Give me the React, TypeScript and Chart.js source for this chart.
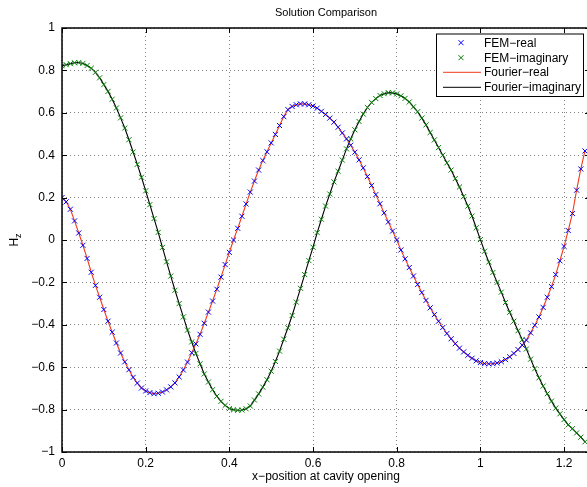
import React, { useEffect, useRef } from "react";
import { Chart, registerables } from "chart.js";

Chart.register(...registerables);

const xPositions = [
  0.00, 0.01, 0.02, 0.03, 0.04, 0.05, 0.06, 0.07, 0.08, 0.09,
  0.10, 0.11, 0.12, 0.13, 0.14, 0.15, 0.16, 0.17, 0.18, 0.19,
  0.20, 0.21, 0.22, 0.23, 0.24, 0.25, 0.26, 0.27, 0.28, 0.29,
  0.30, 0.31, 0.32, 0.33, 0.34, 0.35, 0.36, 0.37, 0.38, 0.39,
  0.40, 0.41, 0.42, 0.43, 0.44, 0.45, 0.46, 0.47, 0.48, 0.49,
  0.50, 0.51, 0.52, 0.53, 0.54, 0.55, 0.56, 0.57, 0.58, 0.59,
  0.60, 0.61, 0.62, 0.63, 0.64, 0.65, 0.66, 0.67, 0.68, 0.69,
  0.70, 0.71, 0.72, 0.73, 0.74, 0.75, 0.76, 0.77, 0.78, 0.79,
  0.80, 0.81, 0.82, 0.83, 0.84, 0.85, 0.86, 0.87, 0.88, 0.89,
  0.90, 0.91, 0.92, 0.93, 0.94, 0.95, 0.96, 0.97, 0.98, 0.99,
  1.00, 1.01, 1.02, 1.03, 1.04, 1.05, 1.06, 1.07, 1.08, 1.09,
  1.10, 1.11, 1.12, 1.13, 1.14, 1.15, 1.16, 1.17, 1.18, 1.19,
  1.20, 1.21, 1.22, 1.23, 1.24, 1.25,
];

const femReal = [
  0.200, 0.180, 0.145, 0.090, 0.033, -0.025, -0.087, -0.152, -0.214, -0.270,
  -0.328, -0.383, -0.435, -0.486, -0.533, -0.575, -0.612, -0.648, -0.675, -0.698,
  -0.712, -0.720, -0.725, -0.723, -0.717, -0.707, -0.693, -0.674, -0.646, -0.613,
  -0.576, -0.532, -0.490, -0.445, -0.393, -0.340, -0.288, -0.232, -0.175, -0.116,
  -0.058, 0.000, 0.055, 0.112, 0.170, 0.226, 0.278, 0.330, 0.375, 0.416,
  0.458, 0.498, 0.540, 0.582, 0.615, 0.630, 0.638, 0.642, 0.642, 0.638,
  0.632, 0.622, 0.607, 0.592, 0.575, 0.556, 0.532, 0.505, 0.477, 0.447,
  0.414, 0.378, 0.340, 0.299, 0.257, 0.214, 0.171, 0.128, 0.085, 0.042,
  0.000, -0.047, -0.089, -0.130, -0.170, -0.210, -0.248, -0.285, -0.320, -0.352,
  -0.383, -0.413, -0.441, -0.466, -0.489, -0.510, -0.528, -0.544, -0.558, -0.570,
  -0.578, -0.583, -0.584, -0.583, -0.580, -0.574, -0.564, -0.551, -0.535, -0.517,
  -0.496, -0.472, -0.438, -0.402, -0.363, -0.318, -0.270, -0.220, -0.163, -0.098,
  -0.030, 0.045, 0.125, 0.235, 0.335, 0.420,
];

const femImag = [
  0.822, 0.827, 0.832, 0.836, 0.837, 0.833, 0.823, 0.810, 0.791, 0.765,
  0.733, 0.701, 0.664, 0.623, 0.576, 0.528, 0.473, 0.415, 0.357, 0.296,
  0.232, 0.167, 0.101, 0.036, -0.035, -0.103, -0.170, -0.237, -0.300, -0.363,
  -0.425, -0.481, -0.535, -0.584, -0.632, -0.670, -0.706, -0.737, -0.761, -0.780,
  -0.795, -0.801, -0.803, -0.802, -0.796, -0.783, -0.755, -0.726, -0.694, -0.659,
  -0.619, -0.573, -0.524, -0.468, -0.414, -0.356, -0.293, -0.228, -0.163, -0.097,
  -0.034, 0.035, 0.098, 0.160, 0.217, 0.274, 0.324, 0.377, 0.430, 0.477,
  0.520, 0.559, 0.594, 0.625, 0.649, 0.667, 0.682, 0.690, 0.695, 0.694,
  0.689, 0.680, 0.668, 0.651, 0.628, 0.605, 0.575, 0.543, 0.507, 0.472,
  0.436, 0.400, 0.364, 0.330, 0.290, 0.250, 0.205, 0.160, 0.113, 0.058,
  0.002, -0.053, -0.104, -0.153, -0.200, -0.246, -0.295, -0.341, -0.383, -0.428,
  -0.470, -0.514, -0.562, -0.607, -0.650, -0.689, -0.725, -0.760, -0.793, -0.820,
  -0.847, -0.872, -0.890, -0.910, -0.930, -0.952,
];

// Fourier solution coincides with the FEM samples
const fourierReal = femReal;
const fourierImag = femImag;

const xTicks = [0, 0.2, 0.4, 0.6, 0.8, 1, 1.2];
const yTicks = [-1, -0.8, -0.6, -0.4, -0.2, 0, 0.2, 0.4, 0.6, 0.8, 1];
const seriesNames = ["FEM\u2212real", "FEM\u2212imaginary", "Fourier\u2212real", "Fourier\u2212imaginary"];
const chartTitle = "Solution Comparison";
const xAxisTitle = "x\u2212position at cavity opening";
const yAxisTitleMain = "H";
const yAxisTitleSub = "z";

const FONT = '"Liberation Sans", Arial, Helvetica, sans-serif';
const COLORS = {
  femReal: "#0000ff",
  femImag: "#008000",
  fourierReal: "#f03a1a",
  fourierImag: "#000000",
};

const fmt = (v: number) => {
  const n = Math.round(v * 10) / 10;
  return n < 0 ? "\u2212" + String(Math.abs(n)) : String(n);
};

const matlabPlugin = {
  id: "matlabDecor",
  afterDraw(chart: any) {
    const { ctx, chartArea: a, scales } = chart;
    ctx.save();
    const line = (x1: number, y1: number, x2: number, y2: number) => {
      ctx.beginPath();
      ctx.moveTo(x1, y1);
      ctx.lineTo(x2, y2);
      ctx.stroke();
    };
    // axes box
    ctx.strokeStyle = "#000";
    ctx.lineWidth = 1.5;
    ctx.setLineDash([]);
    ctx.strokeRect(a.left, a.top, a.right - a.left, a.bottom - a.top);
    // inward ticks
    ctx.lineWidth = 1;
    const tl = 5;
    for (const v of xTicks) {
      const px = Math.round(scales.x.getPixelForValue(v)) + 0.5;
      line(px, a.bottom, px, a.bottom - tl);
      line(px, a.top, px, a.top + tl);
    }
    for (const v of yTicks) {
      const py = Math.round(scales.y.getPixelForValue(v)) + 0.5;
      line(a.left, py, a.left + tl, py);
      line(a.right, py, a.right - tl, py);
    }
    const cx = (a.left + a.right) / 2;
    // title
    ctx.fillStyle = "#000";
    ctx.textAlign = "center";
    ctx.textBaseline = "middle";
    ctx.font = `11px ${FONT}`;
    ctx.fillText(chartTitle, cx, 13);
    // x axis title
    ctx.font = `12px ${FONT}`;
    ctx.fillText(xAxisTitle, cx, 477);
    // y axis title with subscript
    ctx.save();
    ctx.translate(15, (a.top + a.bottom) / 2);
    ctx.rotate(-Math.PI / 2);
    ctx.textAlign = "left";
    ctx.textBaseline = "alphabetic";
    ctx.font = `12px ${FONT}`;
    const wH = ctx.measureText(yAxisTitleMain).width;
    ctx.font = `9px ${FONT}`;
    const wz = ctx.measureText(yAxisTitleSub).width;
    const start = -(wH + wz) / 2;
    ctx.font = `12px ${FONT}`;
    ctx.fillText(yAxisTitleMain, start, 3);
    ctx.font = `9px ${FONT}`;
    ctx.fillText(yAxisTitleSub, start + wH, 6);
    ctx.restore();

    // legend
    const lx = 436, ly = 33.5, lw = 147, lh = 62.5;
    ctx.fillStyle = "#fff";
    ctx.fillRect(lx, ly, lw, lh);
    ctx.strokeStyle = "#000";
    ctx.lineWidth = 1;
    ctx.strokeRect(lx + 0.5, ly + 0.5, lw, lh);
    const rows = [42.7, 57.7, 72.3, 87.3];
    const colors = [COLORS.femReal, COLORS.femImag, COLORS.fourierReal, COLORS.fourierImag];
    ctx.font = `12px ${FONT}`;
    ctx.textAlign = "left";
    ctx.textBaseline = "middle";
    rows.forEach((ry, i) => {
      ctx.strokeStyle = colors[i];
      if (i < 2) {
        const mx = 461, r = 2.5;
        line(mx - r, ry - r, mx + r, ry + r);
        line(mx - r, ry + r, mx + r, ry - r);
      } else {
        line(443, ry, 481, ry);
      }
      ctx.fillStyle = "#000";
      ctx.fillText(seriesNames[i], 484, ry + 0.5);
    });
    ctx.restore();
  },
};

export default function App() {
  const ref = useRef<HTMLCanvasElement | null>(null);

  useEffect(() => {
    if (!ref.current) return;
    const pts = (ys: number[]) => xPositions.map((x, i) => ({ x, y: ys[i] }));
    const chart = new Chart(ref.current, {
      type: "scatter",
      data: {
        datasets: [
          {
            label: seriesNames[0],
            data: pts(femReal),
            showLine: false,
            pointStyle: "crossRot",
            pointRadius: 3.6,
            pointBorderWidth: 1,
            borderColor: COLORS.femReal,
            backgroundColor: COLORS.femReal,
            order: 1,
          },
          {
            label: seriesNames[1],
            data: pts(femImag),
            showLine: false,
            pointStyle: "crossRot",
            pointRadius: 3.6,
            pointBorderWidth: 1,
            borderColor: COLORS.femImag,
            backgroundColor: COLORS.femImag,
            order: 1,
          },
          {
            label: seriesNames[2],
            data: pts(fourierReal),
            showLine: true,
            pointRadius: 0,
            borderWidth: 1.1,
            borderColor: COLORS.fourierReal,
            backgroundColor: COLORS.fourierReal,
            order: 2,
          },
          {
            label: seriesNames[3],
            data: pts(fourierImag),
            showLine: true,
            pointRadius: 0,
            borderWidth: 1.1,
            borderColor: COLORS.fourierImag,
            backgroundColor: COLORS.fourierImag,
            order: 2,
          },
        ],
      },
      options: {
        animation: false,
        responsive: false,
        devicePixelRatio: 1,
        events: [],
        layout: { padding: { top: 28, right: 10, left: 0, bottom: 0 } },
        plugins: {
          legend: { display: false },
          title: { display: false },
          tooltip: { enabled: false },
        },
        scales: {
          x: {
            type: "linear",
            min: 0,
            max: 1.262,
            afterBuildTicks: (scale: any) => {
              scale.ticks = xTicks.map((value) => ({ value }));
            },
            afterFit: (scale: any) => {
              scale.height = 35;
            },
            ticks: {
              callback: (v: any) => fmt(Number(v)),
              font: { size: 12, family: FONT },
              color: "#000",
              padding: 4,
              maxRotation: 0,
              autoSkip: false,
            },
            grid: { color: "#808080", lineWidth: 1, drawTicks: false },
            border: { display: false, dash: [1, 3] },
          },
          y: {
            type: "linear",
            min: -1,
            max: 1,
            afterBuildTicks: (scale: any) => {
              scale.ticks = yTicks.map((value) => ({ value }));
            },
            afterFit: (scale: any) => {
              scale.width = 62;
            },
            ticks: {
              callback: (v: any) => fmt(Number(v)),
              font: { size: 12, family: FONT },
              color: "#000",
              padding: 7,
              autoSkip: false,
            },
            grid: { color: "#808080", lineWidth: 1, drawTicks: false },
            border: { display: false, dash: [1, 3] },
          },
        },
      },
      plugins: [matlabPlugin],
    });
    return () => chart.destroy();
  }, []);

  return (
    <div
      style={{
        position: "fixed",
        left: 0,
        top: 0,
        width: 587,
        height: 487,
        overflow: "hidden",
        background: "#fff",
      }}
    >
      <canvas ref={ref} width={600} height={487} style={{ display: "block", width: 600, height: 487 }} />
    </div>
  );
}
